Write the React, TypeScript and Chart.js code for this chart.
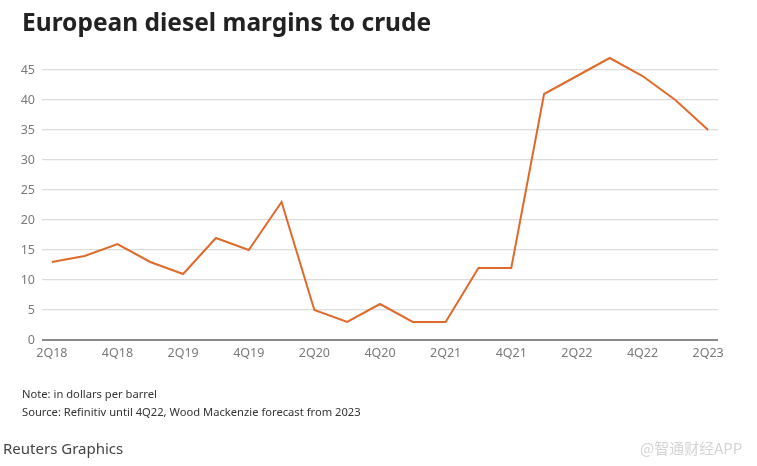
import React, { useEffect, useRef } from "react";
import { Chart, registerables } from "chart.js";

Chart.register(...registerables);

const quarters = [
  "2Q18", "3Q18", "4Q18", "1Q19", "2Q19", "3Q19", "4Q19", "1Q20", "2Q20", "3Q20", "4Q20",
  "1Q21", "2Q21", "3Q21", "4Q21", "1Q22", "2Q22", "3Q22", "4Q22", "1Q23", "2Q23",
];
const margins = [13, 14, 16, 13, 11, 17, 15, 23, 5, 3, 6, 3, 3, 12, 12, 41, 44, 47, 44, 40, 35];
const yTicks = [0, 5, 10, 15, 20, 25, 30, 35, 40, 45];

const FONT = "'Noto Sans', 'Open Sans', sans-serif";

export default function App() {
  const ref = useRef<HTMLCanvasElement | null>(null);

  useEffect(() => {
    if (!ref.current) return;
    const points = margins.map((v, i) => ({ x: i, y: v }));
    const chart = new Chart(ref.current, {
      type: "line",
      data: {
        datasets: [
          {
            data: points,
            borderColor: "#e06a2c",
            borderWidth: 2,
            pointRadius: 0,
            tension: 0,
            fill: false,
            clip: false,
          },
        ],
      },
      options: {
        animation: false,
        responsive: false,
        maintainAspectRatio: false,
        layout: { padding: { left: 0, right: 39, top: 70, bottom: 106 } },
        plugins: { legend: { display: false }, tooltip: { enabled: false } },
        scales: {
          x: {
            type: "linear",
            min: -0.3,
            max: 20.3,
            afterBuildTicks: (scale: any) => {
              scale.ticks = quarters
                .map((_, i) => i)
                .filter((i) => i % 2 === 0)
                .map((i) => ({ value: i }));
            },
            afterFit: (scale: any) => {
              scale.height = 20;
            },
            grid: { display: false, drawTicks: false },
            border: { display: false },
            ticks: {
              padding: 6,
              maxRotation: 0,
              autoSkip: false,
              color: "#7a7a7a",
              font: { family: FONT, size: 12.5 },
              callback: (v: any) => quarters[Number(v)] ?? "",
            },
          },
          y: {
            type: "linear",
            min: 0,
            max: 45,
            afterBuildTicks: (scale: any) => {
              scale.ticks = yTicks.map((v) => ({ value: v }));
            },
            afterFit: (scale: any) => {
              scale.width = 42;
            },
            grid: {
              drawTicks: false,
              color: (ctx: any) => (ctx.tick && ctx.tick.value === 0 ? "#8a8a8a" : "#dcdcdc"),
              lineWidth: (ctx: any) => (ctx.tick && ctx.tick.value === 0 ? 2 : 1.3),
            },
            border: { display: false },
            ticks: {
              padding: 7,
              color: "#7a7a7a",
              font: { family: FONT, size: 12.5 },
            },
          },
        },
      },
    });
    return () => chart.destroy();
  }, []);

  return (
    <div
      style={{
        position: "absolute",
        left: 0,
        top: 0,
        width: 757,
        height: 466,
        background: "#fff",
        overflow: "hidden",
        fontFamily: FONT,
      }}
    >
      <canvas
        ref={ref}
        width={757}
        height={466}
        style={{ position: "absolute", left: 0, top: 0, width: 757, height: 466 }}
      />
      <div
        style={{
          position: "absolute",
          left: 22,
          top: 5,
          fontSize: 24.5,
          fontWeight: 700,
          color: "#222",
          whiteSpace: "nowrap",
        }}
      >
        European diesel margins to crude
      </div>
      <div style={{ position: "absolute", left: 22, top: 386, fontSize: 11.2, color: "#333", whiteSpace: "nowrap" }}>
        Note: in dollars per barrel
      </div>
      <div style={{ position: "absolute", left: 22, top: 404, fontSize: 11.2, color: "#333", whiteSpace: "nowrap" }}>
        Source: Refinitiv until 4Q22, Wood Mackenzie forecast from 2023
      </div>
      <div style={{ position: "absolute", left: 3, top: 438, fontSize: 15, color: "#444", whiteSpace: "nowrap" }}>
        Reuters Graphics
      </div>
      <div
        style={{
          position: "absolute",
          left: 640,
          top: 437,
          fontSize: 15,
          color: "#d4d4d4",
          whiteSpace: "nowrap",
          fontFamily: "'Noto Sans CJK SC', sans-serif",
        }}
      >
        @智通财经APP
      </div>
    </div>
  );
}
